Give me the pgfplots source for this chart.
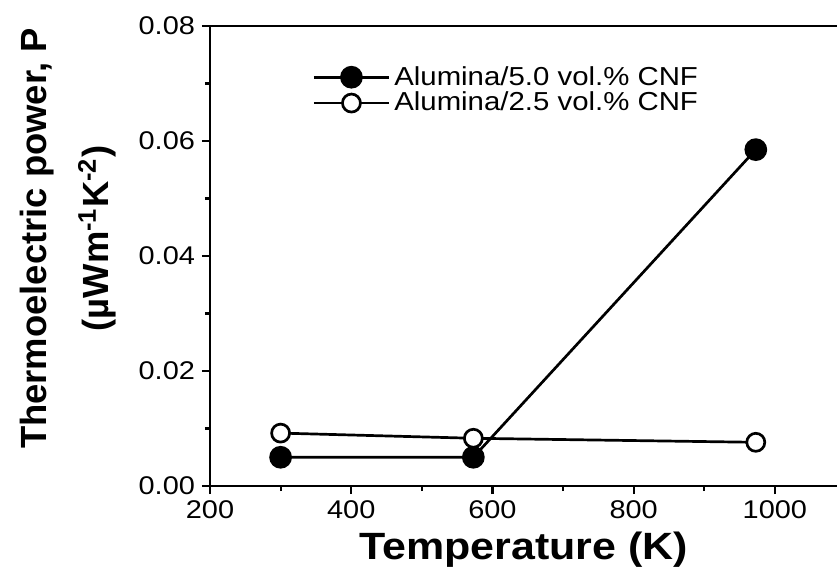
\documentclass[border=0pt]{standalone}
\usepackage{fontspec}
% the scanned figure is a little wider than tall, so stretch the upright text
\setmainfont{Liberation Sans}[FakeStretch=1.13]
\newfontfamily\ylabfont{Liberation Sans}
\usepackage{pgfplots}
\pgfplotsset{compat=1.18}

\begin{document}
\begin{tikzpicture}
% page = 837x569 px at 0.5pt per px
\useasboundingbox (0,0) rectangle (418.5pt,284.5pt);
\begin{axis}[
    at={(105pt,41.5pt)}, anchor=south west,
    scale only axis,
    width=313.5pt, height=230pt,
    xmin=200, xmax=1088,
    ymin=0, ymax=0.08,
    axis x line*=box, axis y line*=left,
    axis line style={line width=1.3pt},
    xtick={200,400,...,1000},
    ytick={0,0.02,0.04,0.06,0.08},
    minor x tick num=1, minor y tick num=1,
    tick align=outside,
    xtick pos=left, ytick pos=left,
    major tick length=4pt, minor tick length=2.5pt,
    every tick/.style={line width=1.1pt, black},
    scaled y ticks=false,
    /pgf/number format/assume math mode=true,
    x tick label style={/pgf/number format/1000 sep={}},
    y tick label style={/pgf/number format/fixed,
        /pgf/number format/fixed zerofill,
        /pgf/number format/precision=2},
    tick label style={font=\fontsize{12.8}{15}\selectfont},
    xlabel={Temperature (K)},
    xlabel style={font=\fontsize{19}{22}\selectfont\bfseries,
        at={(axis description cs:0.5,0)}, anchor=center, yshift=-32pt},
    ylabel={Thermoelectric power, P\\(µWm\textsuperscript{-1}K\textsuperscript{-2})},
    ylabel style={font=\ylabfont\fontsize{18.2}{31}\selectfont\bfseries, align=center,
        at={(axis description cs:-0.2265,0.538)}, anchor=center},
    legend style={at={(axis description cs:0.163,0.922)}, anchor=north west,
        draw=none, fill=none, inner sep=0pt, row sep=-2pt,
        font=\fontsize{13}{14}\selectfont},
    legend cell align=left,
    legend image code/.code={
        \draw[mark repeat=2, mark phase=2, #1]
            plot coordinates {(0pt,0pt) (18.75pt,0pt) (37.5pt,0pt)};
    },
]

% 5.0 vol.% CNF (filled)
\addplot[draw=black, line width=1.35pt, mark=*, mark size=5pt,
    mark options={solid, fill=black}]
    coordinates {(300,0.0050) (573,0.0050) (973,0.0585)};
\addlegendentry{Alumina/5.0 vol.\% CNF}

% 2.5 vol.% CNF (open)
\addplot[draw=black, line width=1.35pt, mark=*, mark size=4.5pt,
    mark options={solid, fill=white}]
    coordinates {(300,0.0092) (573,0.0083) (973,0.0076)};
\addlegendentry{Alumina/2.5 vol.\% CNF}

\end{axis}
\end{tikzpicture}
\end{document}
